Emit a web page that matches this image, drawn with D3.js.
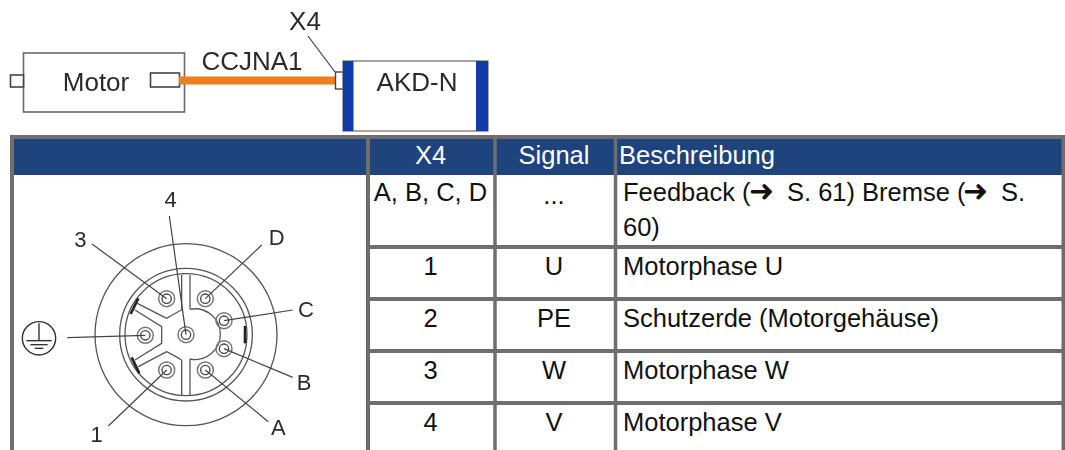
<!DOCTYPE html>
<html>
<head>
<meta charset="utf-8">
<style>
  html, body { margin: 0; padding: 0; background: #fff; overflow: hidden; }
  text { font-family: "Liberation Sans", Arial, sans-serif; }
</style>
<script src="https://cdn.jsdelivr.net/npm/d3@7"></script>
</head>
<body>
<script>
// Table content
const headers = ["", "X4", "Signal", "Beschreibung"];
const x4Pins = ["A, B, C, D", "1", "2", "3", "4"];
const signals = ["...", "U", "PE", "W", "V"];
const descriptions = ["", "Motorphase U", "Schutzerde (Motorgehäuse)", "Motorphase W", "Motorphase V"];

// Connector pins, in connector units (centre of the plug = 0,0)
const pinNames = ["4", "3", "D", "C", "B", "A", "1", "PE"];
const pinX = [0, -58, 58, 114, 114, 58, -58, -122];
const pinY = [0, -108, -108, -42, 42, 106, 106, 2];
const leaderEndX = [-50, -282, 227, 320, 320, 247, -233, -356];
const leaderEndY = [-356, -272, -269, -74, 128, 261, 274, 9];
const pinLabels = ["4", "3", "D", "C", "B", "A", "1", ""];

// Plug outlines, also in connector units
const keyLines = [
  [[12, -179], [12, -76]],
  [[12, 73], [12, 181]],
  [[-13, -179], [-13, -74]],
  [[-13, 76], [-13, 181]],
  [[-58, -49], [-146, -94]],
  [[-153, -74], [-73, -24], [-73, 26], [-153, 76]],
  [[-143, 96], [-58, 51]]
];
const keyMarks = [
  [[-143, -109], [-166, -62]],
  [[-163, 68], [-140, 116]],
  [[177, -26], [177, 26]]
];

const svg = d3.select("body").append("svg")
  .attr("width", 1065)
  .attr("height", 450);

const soft = svg.append("defs").append("filter")
  .attr("id", "soft")
  .attr("x", "-5%").attr("y", "-5%").attr("width", "110%").attr("height", "110%");
soft.append("feGaussianBlur").attr("stdDeviation", 0.45);

const ink = "#2c2c2c";
const line = "#6a6a6a";
const grid = "#6e6e6e";

// Block diagram at the top
const block = svg.append("g").attr("filter", "url(#soft)");

block.append("rect").attr("x", 23.5).attr("y", 53).attr("width", 161).attr("height", 59)
  .attr("fill", "#fff").attr("stroke", line).attr("stroke-width", 1.6);
block.append("rect").attr("x", 10.5).attr("y", 75).attr("width", 13).attr("height", 12)
  .attr("fill", "#fff").attr("stroke", "#444").attr("stroke-width", 1.6);
block.append("rect").attr("x", 150.5).attr("y", 73).attr("width", 29).attr("height", 14)
  .attr("fill", "#fff").attr("stroke", "#444").attr("stroke-width", 1.6);
block.append("rect").attr("x", 179).attr("y", 76.5).attr("width", 156).attr("height", 8)
  .attr("fill", "#ee7f1a");
block.append("rect").attr("x", 335.5).attr("y", 72).attr("width", 8).attr("height", 17)
  .attr("fill", "#fff").attr("stroke", "#444").attr("stroke-width", 1.4);
block.append("rect").attr("x", 343).attr("y", 61).attr("width", 145).attr("height", 70)
  .attr("fill", "#fff").attr("stroke", line).attr("stroke-width", 1.2);
block.append("rect").attr("x", 343).attr("y", 61).attr("width", 10.5).attr("height", 70)
  .attr("fill", "#0a3aa8");
block.append("rect").attr("x", 476).attr("y", 61).attr("width", 12).attr("height", 70)
  .attr("fill", "#0a3aa8");
block.append("line").attr("x1", 308).attr("y1", 36).attr("x2", 335).attr("y2", 72)
  .attr("stroke", "#444").attr("stroke-width", 1.2);

const blockLabels = [
  { text: "Motor", x: 96, y: 91 },
  { text: "CCJNA1", x: 252, y: 70 },
  { text: "X4", x: 305, y: 30 },
  { text: "AKD-N", x: 417, y: 91 }
];
block.selectAll("text.block-label")
  .data(blockLabels)
  .join("text")
  .attr("class", "block-label")
  .attr("x", d => d.x)
  .attr("y", d => d.y)
  .attr("text-anchor", "middle")
  .attr("font-size", 26)
  .attr("fill", ink)
  .text(d => d.text);

// Table grid
const colCentres = d3.scaleOrdinal().domain(headers.slice(1)).range([430.5, 554]);
const rowLines = [247, 299, 351, 403];
const rowBaselines = [201, 275, 327, 379, 431];

svg.append("rect").attr("x", 12).attr("y", 137).attr("width", 1051.5).attr("height", 38)
  .attr("fill", "#1f437c");

svg.append("g").selectAll("line")
  .data(rowLines)
  .join("line")
  .attr("x1", 368).attr("x2", 1063.5)
  .attr("y1", d => d).attr("y2", d => d)
  .attr("stroke", grid).attr("stroke-width", 4);

svg.append("g").selectAll("line")
  .data([12, 368, 495, 615.5, 1063.5])
  .join("line")
  .attr("x1", d => d).attr("x2", d => d)
  .attr("y1", 135).attr("y2", 450)
  .attr("stroke", grid).attr("stroke-width", d => d === 495 || d === 615.5 ? 3.5 : 4);

svg.append("line").attr("x1", 10).attr("x2", 1065).attr("y1", 137).attr("y2", 137)
  .attr("stroke", grid).attr("stroke-width", 4);

// Table text
const fontSize = 25.5;
const headerText = svg.append("g").attr("fill", "#fff").attr("font-size", fontSize);
headerText.selectAll("text")
  .data(headers.slice(1, 3))
  .join("text")
  .attr("x", d => colCentres(d))
  .attr("y", 164)
  .attr("text-anchor", "middle")
  .text(d => d);
headerText.append("text").attr("x", 619).attr("y", 164).text(headers[3]);

const body = svg.append("g").attr("fill", "#111").attr("font-size", fontSize);
body.selectAll("text.pin")
  .data(x4Pins)
  .join("text")
  .attr("class", "pin")
  .attr("x", 430.5)
  .attr("y", (d, i) => rowBaselines[i])
  .attr("text-anchor", "middle")
  .text(d => d);
body.selectAll("text.signal")
  .data(signals)
  .join("text")
  .attr("class", "signal")
  .attr("x", 554)
  .attr("y", (d, i) => rowBaselines[i] + (i === 0 ? 3 : 0))
  .attr("text-anchor", "middle")
  .text(d => d);
body.selectAll("text.desc")
  .data(descriptions)
  .join("text")
  .attr("class", "desc")
  .attr("x", 623)
  .attr("y", (d, i) => rowBaselines[i])
  .text(d => d);

// First description wraps and carries two arrow glyphs, placed piece by piece
const firstRow = body.append("text").attr("y", rowBaselines[0]);
firstRow.append("tspan").attr("x", 623).text("Feedback (");
firstRow.append("tspan").attr("x", 749).attr("font-family", "DejaVu Sans").attr("font-size", 30).text("➜");
firstRow.append("tspan").attr("x", 787).text("S. 61)");
firstRow.append("tspan").attr("x", 862).text("Bremse (");
firstRow.append("tspan").attr("x", 963).attr("font-family", "DejaVu Sans").attr("font-size", 30).text("➜");
firstRow.append("tspan").attr("x", 1001).text("S.");
body.append("text").attr("x", 623).attr("y", 236).text("60)");

// Connector face
const cx = d3.scaleLinear().domain([-558, 552]).range([0, 370]);
const cy = d3.scaleLinear().domain([-494, 346]).range([170, 450]);
const rad = d3.scaleLinear().domain([0, 3]).range([0, 1]);
const plug = svg.append("g").attr("filter", "url(#soft)").attr("fill", "none");
const pathOf = d3.line().x(d => cx(d[0])).y(d => cy(d[1]));

plug.selectAll("circle.ring")
  .data([273, 199, 183])
  .join("circle")
  .attr("class", "ring")
  .attr("cx", cx(0)).attr("cy", cy(0))
  .attr("r", d => rad(d))
  .attr("stroke", "#555").attr("stroke-width", 1.3);

plug.selectAll("path.key")
  .data(keyLines)
  .join("path")
  .attr("class", "key")
  .attr("d", pathOf)
  .attr("stroke", "#555").attr("stroke-width", 1.3);

// Rounded hub in the middle of the key lines
plug.append("path")
  .attr("d", `M${cx(12)},${cy(-76)} A${rad(76)},${rad(76)} 0 1 1 ${cx(12)},${cy(73)}`)
  .attr("stroke", "#555").attr("stroke-width", 1.3);
plug.append("path")
  .attr("d", `M${cx(-13)},${cy(-74)} Q${cx(-30)},${cy(-66)} ${cx(-58)},${cy(-49)}`)
  .attr("stroke", "#555").attr("stroke-width", 1.3);
plug.append("path")
  .attr("d", `M${cx(-13)},${cy(76)} Q${cx(-30)},${cy(66)} ${cx(-58)},${cy(51)}`)
  .attr("stroke", "#555").attr("stroke-width", 1.3);

plug.selectAll("path.mark")
  .data(keyMarks)
  .join("path")
  .attr("class", "mark")
  .attr("d", pathOf)
  .attr("stroke", "#222").attr("stroke-width", 2.6);

const pins = pinNames.map((name, i) => ({
  name,
  label: pinLabels[i],
  x: pinX[i], y: pinY[i],
  ex: leaderEndX[i], ey: leaderEndY[i]
}));

plug.selectAll("circle.pin-outer")
  .data(pins)
  .join("circle")
  .attr("class", "pin-outer")
  .attr("cx", d => cx(d.x)).attr("cy", d => cy(d.y))
  .attr("r", rad(24))
  .attr("stroke", "#777").attr("stroke-width", 1.5);
plug.selectAll("circle.pin-inner")
  .data(pins)
  .join("circle")
  .attr("class", "pin-inner")
  .attr("cx", d => cx(d.x)).attr("cy", d => cy(d.y))
  .attr("r", rad(14))
  .attr("stroke", "#444").attr("stroke-width", 1.3);

plug.selectAll("line.leader")
  .data(pins)
  .join("line")
  .attr("class", "leader")
  .attr("x1", d => cx(d.x)).attr("y1", d => cy(d.y))
  .attr("x2", d => cx(d.ex)).attr("y2", d => cy(d.ey))
  .attr("stroke", "#444").attr("stroke-width", 1.2);

const labelPos = {
  "4": [-46, -384], "3": [-317, -264], "D": [272, -269], "C": [360, -54],
  "B": [354, 166], "A": [277, 301], "1": [-268, 321]
};
plug.selectAll("text.pin-label")
  .data(pins.filter(d => d.label))
  .join("text")
  .attr("class", "pin-label")
  .attr("x", d => cx(labelPos[d.name][0]))
  .attr("y", d => cy(labelPos[d.name][1]))
  .attr("text-anchor", "middle")
  .attr("font-size", 22)
  .attr("fill", ink)
  .text(d => d.label);

// Protective earth symbol
const earth = plug.append("g").attr("stroke", "#333").attr("stroke-width", 1.4);
earth.append("circle").attr("cx", cx(-441)).attr("cy", cy(11)).attr("r", rad(50));
earth.append("line").attr("x1", cx(-441)).attr("x2", cx(-441)).attr("y1", cy(-34)).attr("y2", cy(18));
earth.selectAll("line.bar")
  .data([[38, 18], [26, 30], [13, 41]])
  .join("line")
  .attr("class", "bar")
  .attr("x1", d => cx(-441 - d[0])).attr("x2", d => cx(-441 + d[0]))
  .attr("y1", d => cy(d[1])).attr("y2", d => cy(d[1]));
</script>
</body>
</html>
